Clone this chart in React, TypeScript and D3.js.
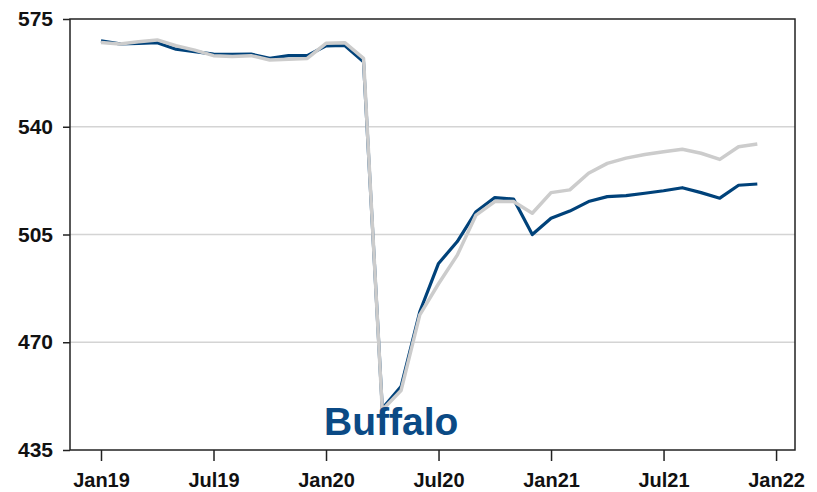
import React, { useEffect, useRef } from 'react';
import * as d3 from 'd3';

// monthly series, Jan 2019 .. Dec 2021
const months: string[] = [
  'Jan19', 'Feb19', 'Mar19', 'Apr19', 'May19', 'Jun19', 'Jul19', 'Aug19', 'Sep19', 'Oct19', 'Nov19', 'Dec19',
  'Jan20', 'Feb20', 'Mar20', 'Apr20', 'May20', 'Jun20', 'Jul20', 'Aug20', 'Sep20', 'Oct20', 'Nov20', 'Dec20',
  'Jan21', 'Feb21', 'Mar21', 'Apr21', 'May21', 'Jun21', 'Jul21', 'Aug21', 'Sep21', 'Oct21', 'Nov21', 'Dec21',
];

const buffalo: number[] = [
  567.9, 566.9, 567.1, 567.3, 565.2, 564.4, 563.6, 563.5, 563.6, 562.2, 563.1, 563.1,
  566.3, 566.4, 561.1, 448.5, 455.6, 479.9, 495.6, 502.7, 512.4, 517.0, 516.5, 505.0,
  510.3, 512.6, 515.7, 517.3, 517.6, 518.4, 519.2, 520.2, 518.6, 516.8, 521.0, 521.4,
];

const benchmark: number[] = [
  567.4, 566.9, 567.6, 568.2, 566.3, 564.9, 563.1, 562.8, 563.1, 561.7, 561.9, 562.2,
  567.1, 567.3, 562.2, 448.0, 454.3, 478.9, 489.0, 498.3, 511.3, 515.7, 515.7, 511.9,
  518.6, 519.5, 524.9, 528.1, 529.8, 531.0, 531.9, 532.7, 531.4, 529.4, 533.5, 534.4,
];

const xTickIdx: number[] = [0, 6, 12, 18, 24, 30, 36];
const xTickLabels: string[] = ['Jan19', 'Jul19', 'Jan20', 'Jul20', 'Jan21', 'Jul21', 'Jan22'];
const yTicks: number[] = [435, 470, 505, 540, 575];

export default function App() {
  const ref = useRef<SVGSVGElement>(null);

  useEffect(() => {
    const svg = d3.select(ref.current);
    svg.selectAll('*').remove();

    const left = 70, right = 795, top = 19, bottom = 450;
    const font = 'Liberation Sans, Arial, sans-serif';

    const x = d3.scaleLinear().domain([-1.653, 37.01]).range([left, right]);
    const y = d3.scaleLinear().domain([435, 575]).range([bottom, top]);

    // gridlines
    svg.append('g')
      .selectAll('line')
      .data(yTicks.slice(1, -1))
      .enter().append('line')
      .attr('x1', left).attr('x2', right)
      .attr('y1', d => y(d)).attr('y2', d => y(d))
      .attr('stroke', '#d4d4d4')
      .attr('stroke-width', 1.5);

    // lines
    const line = d3.line<number>()
      .x((_, i) => x(i))
      .y(d => y(d));

    svg.append('path')
      .datum(buffalo)
      .attr('fill', 'none')
      .attr('stroke', '#00427a')
      .attr('stroke-width', 3.2)
      .attr('stroke-linejoin', 'round')
      .attr('d', line);

    svg.append('path')
      .datum(benchmark)
      .attr('fill', 'none')
      .attr('stroke', '#cccccc')
      .attr('stroke-width', 3.5)
      .attr('stroke-linejoin', 'round')
      .attr('d', line);

    // frame
    svg.append('rect')
      .attr('x', left).attr('y', top)
      .attr('width', right - left).attr('height', bottom - top)
      .attr('fill', 'none')
      .attr('stroke', '#222')
      .attr('stroke-width', 1.5);

    // y axis
    const yAxis = svg.append('g')
      .attr('transform', `translate(${left},0)`)
      .call(d3.axisLeft(y).tickValues(yTicks).tickSize(7).tickFormat(d => String(d)));
    yAxis.select('.domain').remove();
    yAxis.selectAll('.tick line').attr('stroke', '#222').attr('stroke-width', 1.5);
    yAxis.selectAll('.tick text')
      .attr('x', -17)
      .attr('fill', '#111')
      .style('font-family', font)
      .style('font-size', '21px')
      .style('font-weight', 'bold');

    // x axis
    const xAxis = svg.append('g')
      .attr('transform', `translate(0,${bottom})`)
      .call(d3.axisBottom(x).tickValues(xTickIdx).tickSize(11)
        .tickFormat((_, i) => xTickLabels[i]));
    xAxis.select('.domain').remove();
    xAxis.selectAll('.tick line').attr('stroke', '#222').attr('stroke-width', 1.5);
    xAxis.selectAll('.tick text')
      .attr('y', 23)
      .attr('fill', '#111')
      .style('font-family', font)
      .style('font-size', '20px')
      .style('font-weight', 'bold');

    // series label
    svg.append('text')
      .attr('x', 324)
      .attr('y', 435)
      .attr('fill', '#0b4a85')
      .style('font-family', font)
      .style('font-size', '39px')
      .style('font-weight', 'bold')
      .text('Buffalo');
  }, []);

  return (
    <svg ref={ref} width={817} height={492}
      style={{ position: 'absolute', left: 0, top: 0, background: '#fff' }} />
  );
}
